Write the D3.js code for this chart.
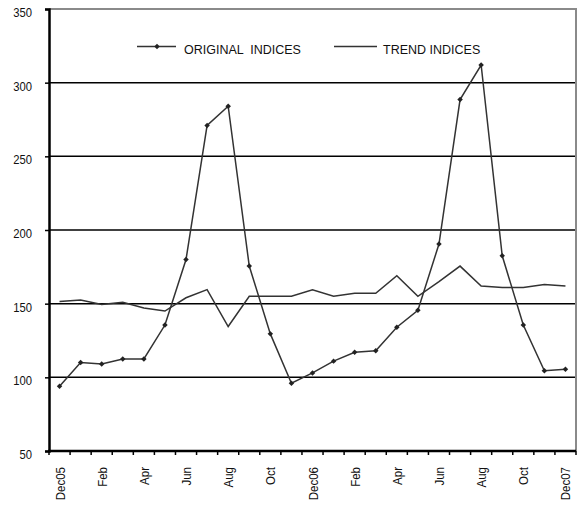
<!DOCTYPE html>
<html>
<head>
<meta charset="utf-8">
<script src="https://cdn.jsdelivr.net/npm/d3@7"></script>
<style>
  body { margin: 0; background: #fff; }
  text { font-family: "Liberation Sans", Arial, sans-serif; fill: #111; }
</style>
</head>
<body>
<div id="chart"></div>
<script>
// months Dec05 .. Dec07
const months = ["Dec05","Jan","Feb","Mar","Apr","May","Jun","Jul","Aug","Sep","Oct","Nov",
  "Dec06","Jan","Feb","Mar","Apr","May","Jun","Jul","Aug","Sep","Oct","Nov","Dec07"];
const original = [94, 110, 109, 112.5, 112.5, 135.5, 180, 271, 284, 175.5, 129.5, 96,
  103, 111, 117, 118, 134, 145.5, 190.5, 288.5, 312, 182.5, 135.5, 104.5, 105.5];
const trend = [151.5, 152.5, 149.5, 151, 147, 145, 154, 159.5, 134.5, 155, 155, 155,
  159.5, 155, 157, 157, 169, 155, 165, 175.5, 162, 161, 161, 163, 162];
const yTicks = [50, 100, 150, 200, 250, 300, 350];

const width = 577, height = 506;
const padLeft = 49, padRight = 576, padTop = 9, padBottom = 451;

const svg = d3.select("#chart").append("svg")
  .attr("width", width)
  .attr("height", height);

const idx = months.map((d, i) => i);
const x = d3.scaleBand().domain(idx).range([padLeft, padRight]);
const y = d3.scaleLinear().domain([50, 350]).range([padBottom, padTop]);

// gridlines
svg.append("g")
  .selectAll("line")
  .data(yTicks.filter(v => v > 50 && v < 350))
  .enter().append("line")
  .attr("x1", padLeft).attr("x2", padRight)
  .attr("y1", d => y(d)).attr("y2", d => y(d))
  .attr("stroke", "#000")
  .attr("stroke-width", 1.5);

// plot border top / right
svg.append("path")
  .attr("d", `M${padLeft},${y(350)}H${padRight}V${padBottom}`)
  .attr("fill", "none")
  .attr("stroke", "#8a8a8a")
  .attr("stroke-width", 2);

// y axis
const yAxis = svg.append("g")
  .attr("transform", `translate(${padLeft},0)`)
  .call(d3.axisLeft(y).tickValues(yTicks).tickSize(4));
yAxis.select(".domain").attr("stroke", "#000").attr("stroke-width", 2.5);
yAxis.selectAll(".tick line").attr("stroke", "#000").attr("stroke-width", 1.5);
yAxis.selectAll("text")
  .attr("x", -19).attr("dy", "0.6em")
  .attr("transform", "scale(0.9,1)")
  .attr("fill", "#111")
  .style("font-size", "12.5px")
  .style("font-family", "'Liberation Sans', Arial, sans-serif");

// x axis: ticks between categories
const xAxis = svg.append("g")
  .attr("transform", `translate(0,${padBottom})`);
xAxis.append("line")
  .attr("x1", padLeft - 1).attr("x2", padRight)
  .attr("stroke", "#000").attr("stroke-width", 2.5);
xAxis.selectAll("line.tk")
  .data(idx.concat([idx.length]))
  .enter().append("line")
  .attr("class", "tk")
  .attr("x1", d => padLeft + d * x.bandwidth())
  .attr("x2", d => padLeft + d * x.bandwidth())
  .attr("y1", 0).attr("y2", 4)
  .attr("stroke", "#000").attr("stroke-width", 1.5);
xAxis.selectAll("text")
  .data(idx.filter(i => i % 2 === 0))
  .enter().append("text")
  .attr("transform", d => `translate(${x(d) + x.bandwidth() / 2 + 5},16) rotate(-90) scale(0.92,1)`)
  .attr("text-anchor", "end")
  .style("font-size", "12.5px")
  .text(d => months[d]);

const cx = i => x(i) + x.bandwidth() / 2;

const line = d3.line()
  .x((d, i) => cx(i))
  .y(d => y(d));

svg.append("path")
  .datum(trend)
  .attr("d", line)
  .attr("fill", "none")
  .attr("stroke", "#333")
  .attr("stroke-width", 1.5);

svg.append("path")
  .datum(original)
  .attr("d", line)
  .attr("fill", "none")
  .attr("stroke", "#333")
  .attr("stroke-width", 1.5);

const marker = d3.symbol().type(d3.symbolSquare).size(15);
svg.append("g")
  .selectAll("path")
  .data(original)
  .enter().append("path")
  .attr("d", marker)
  .attr("transform", (d, i) => `translate(${cx(i)},${y(d)}) rotate(45)`)
  .attr("fill", "#222");

// legend
const lg = svg.append("g").attr("transform", "translate(0,46.5)");
lg.append("line").attr("x1", 137).attr("x2", 176)
  .attr("stroke", "#333").attr("stroke-width", 1.5);
lg.append("path").attr("d", marker).attr("transform", "translate(157,0) rotate(45)").attr("fill", "#222");
lg.append("text").attr("x", 184).attr("y", 7).style("font-size", "12.5px")
  .style("white-space", "pre").text("ORIGINAL  INDICES");
lg.append("line").attr("x1", 334).attr("x2", 377)
  .attr("stroke", "#333").attr("stroke-width", 1.5);
lg.append("text").attr("x", 383).attr("y", 7).style("font-size", "12.5px")
  .text("TREND INDICES");
</script>
</body>
</html>
